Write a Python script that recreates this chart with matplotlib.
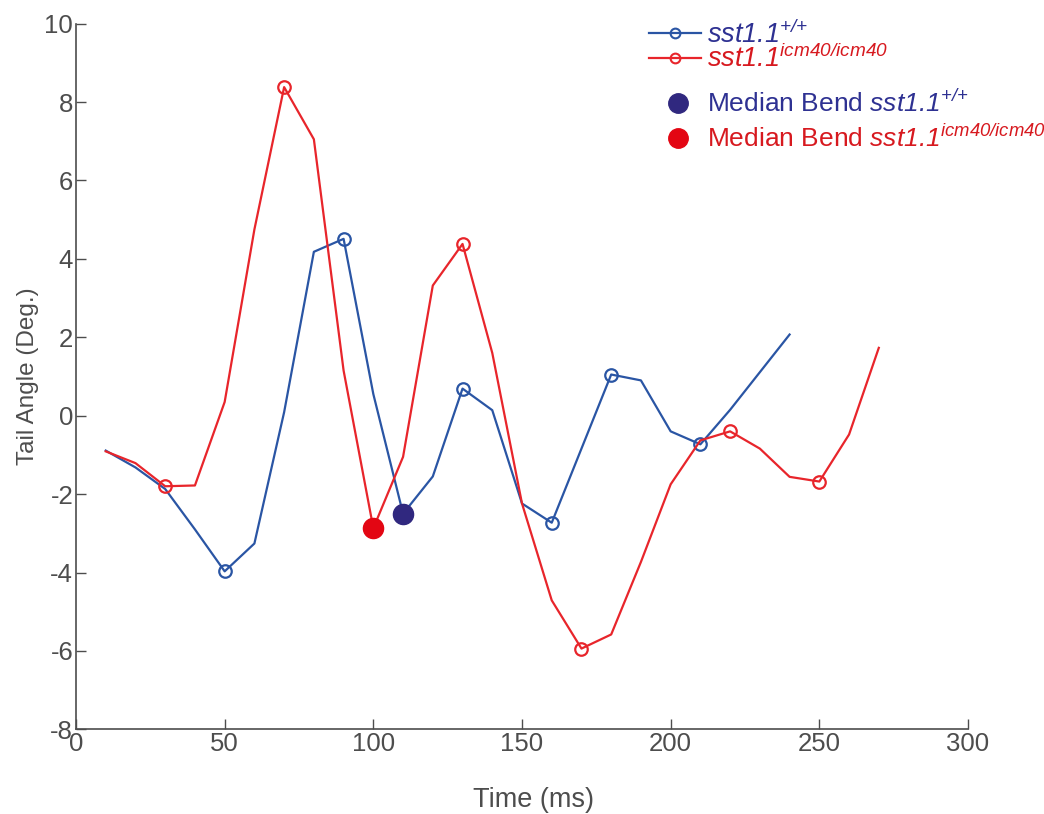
import matplotlib
matplotlib.use('Agg')
import matplotlib.pyplot as plt
from matplotlib.lines import Line2D

plt.rcParams['font.family'] = ['Liberation Sans', 'DejaVu Sans']
plt.rcParams['mathtext.fontset'] = 'custom'
# \mathrm is used for the italic gene names so the digits are slanted too
plt.rcParams['mathtext.rm'] = 'Liberation Sans:italic'
plt.rcParams['mathtext.it'] = 'Liberation Sans:italic'
plt.rcParams['axes.unicode_minus'] = False

# time (ms)
time_wt = [10, 20, 30, 40, 50, 60, 70, 80, 90, 100, 110, 120, 130, 140, 150,
           160, 170, 180, 190, 200, 210, 220, 230, 240]
angle_wt = [-0.89, -1.32, -1.87, -2.9, -3.97, -3.26, 0.09, 4.18, 4.51, 0.55, -2.5, -1.55,
            0.69, 0.14, -2.24, -2.73, -0.84, 1.05, 0.9, -0.4, -0.73, 0.15, 1.11, 2.07]

time_mut = [10, 20, 30, 40, 50, 60, 70, 80, 90, 100, 110, 120, 130, 140, 150, 160,
            170, 180, 190, 200, 210, 220, 230, 240, 250, 260, 270]
angle_mut = [-0.91, -1.21, -1.8, -1.78, 0.35, 4.75, 8.38, 7.05, 1.15, -2.87, -1.05, 3.32,
             4.38, 1.6, -2.24, -4.71, -5.94, -5.58, -3.73, -1.75, -0.63, -0.4, -0.84,
             -1.56, -1.68, -0.48, 1.73]

# peaks marked with open circles
peaks_wt = [50, 90, 130, 160, 180, 210]
peaks_mut = [30, 70, 130, 170, 220, 250]

# median bend points
median_wt = (110, -2.5)
median_mut = (100, -2.87)

blue = '#2a55a4'
red = '#e8252b'
blue_dark = '#30287f'
red_dark = '#e30613'
grey = '#4d4d4d'

fig = plt.figure(figsize=(10.44, 8.14), dpi=100)
ax = fig.add_axes([0.0728, 0.104, 0.8544, 0.867])

mk_wt = [time_wt.index(t) for t in peaks_wt]
mk_mut = [time_mut.index(t) for t in peaks_mut]

ax.plot(time_wt, angle_wt, color=blue, lw=1.6, marker='o', markevery=mk_wt,
        markersize=9, markerfacecolor='none', markeredgewidth=1.6)
ax.plot(time_mut, angle_mut, color=red, lw=1.6, marker='o', markevery=mk_mut,
        markersize=9, markerfacecolor='none', markeredgewidth=1.6)
ax.plot(median_mut[0], median_mut[1], 'o', color=red_dark, markersize=14.5)
ax.plot(median_wt[0], median_wt[1], 'o', color=blue_dark, markersize=14.5)

ax.set_xlim(0, 300)
ax.set_ylim(-8, 10)
ax.set_xticks(range(0, 301, 50))
ax.set_yticks(range(-8, 11, 2))
for s in ['top', 'right']:
    ax.spines[s].set_visible(False)
for s in ['left', 'bottom']:
    ax.spines[s].set_color(grey)
    ax.spines[s].set_linewidth(1.2)
ax.tick_params(direction='in', length=7, width=1, color=grey, labelcolor=grey,
               labelsize=18.5, pad=2)
ax.set_xlabel('Time (ms)', fontsize=19.5, color=grey)
ax.xaxis.set_label_coords(0.513, -0.082)
ax.set_ylabel('Tail Angle (Deg.)', fontsize=17.5, color=grey, labelpad=4)

lab_wt = r'$\mathrm{sst1.1}^{\mathrm{{+}/{+}}}$'
lab_mut = r'$\mathrm{sst1.1}^{\mathrm{icm40/icm40}}$'

h1 = [Line2D([], [], color=blue, lw=1.6, marker='o', markersize=7,
             markerfacecolor='none', markeredgewidth=1.5),
      Line2D([], [], color=red, lw=1.6, marker='o', markersize=7,
             markerfacecolor='none', markeredgewidth=1.5)]
leg1 = fig.legend(h1, [lab_wt, lab_mut], loc='upper left',
                  bbox_to_anchor=(0.622, 0.975), frameon=False, fontsize=19.5,
                  handlelength=1.9, handletextpad=0.22, labelspacing=-0.15,
                  borderaxespad=0, borderpad=0)
leg1.get_texts()[0].set_color('#2e3192')
leg1.get_texts()[1].set_color('#d7191f')

h2 = [Line2D([], [], ls='none', marker='o', color=blue_dark, markersize=14),
      Line2D([], [], ls='none', marker='o', color=red_dark, markersize=14)]
leg2 = fig.legend(h2, ['Median Bend ' + lab_wt, 'Median Bend ' + lab_mut],
                  loc='upper left', bbox_to_anchor=(0.634, 0.889), frameon=False,
                  fontsize=19, handlelength=1.2, handletextpad=0.5,
                  labelspacing=0.3, borderaxespad=0, borderpad=0)
leg2.get_texts()[0].set_color('#2e3192')
leg2.get_texts()[1].set_color('#d7191f')

fig.savefig('out.png', dpi=100)
